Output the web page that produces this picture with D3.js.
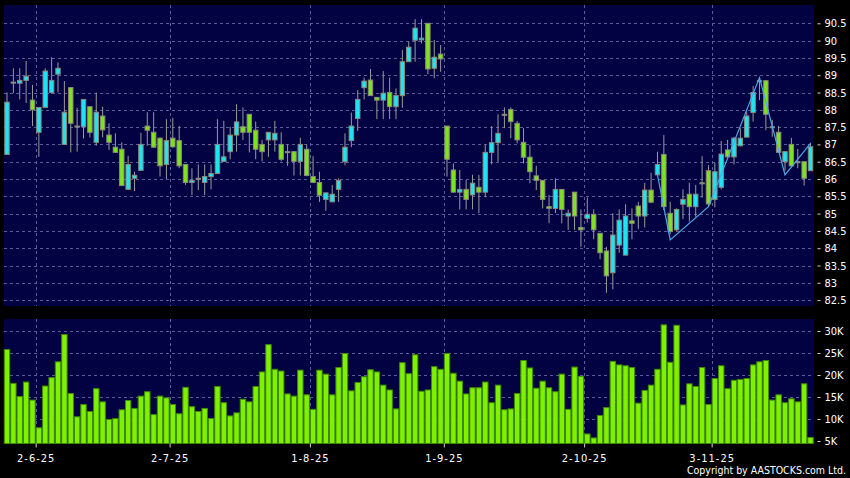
<!DOCTYPE html>
<html>
<head>
<meta charset="utf-8">
<script src="https://cdn.jsdelivr.net/npm/d3@7"></script>
<style>
  body { margin: 0; background: #000; }
  svg { display: block; }
  text { font-family: "DejaVu Sans Condensed", "DejaVu Sans", sans-serif; fill: #fff; }
</style>
</head>
<body>
<div id="chart"></div>
<script>
// daily candles, oldest first
var open = [86.71, 88.80, 88.77, 88.85, 88.28, 87.35, 88.07, 88.50, 89.03, 87.00,
  88.64, 87.53, 87.51, 88.09, 87.06, 87.82, 87.27, 86.92, 86.86, 85.70,
  86.02, 86.25, 87.53, 87.35, 87.18, 86.42, 87.18, 87.11, 86.42, 85.90,
  86.02, 85.90, 86.07, 86.16, 86.51, 86.79, 87.27, 87.51, 87.87, 87.41,
  87.00, 87.13, 87.13, 87.00, 86.79, 86.79, 86.51, 86.86, 86.07, 85.90,
  85.41, 85.34, 85.70, 86.50, 87.11, 87.75, 88.64, 88.86, 88.36, 88.28,
  88.50, 88.09, 88.41, 89.39, 90.01, 90.02, 90.50, 89.20, 89.61, 87.53,
  86.26, 85.62, 85.70, 85.54, 85.76, 85.62, 86.77, 87.05, 87.87, 88.01,
  87.61, 87.06, 86.63, 86.09, 85.96, 85.20, 85.15, 85.70, 84.93, 85.62,
  84.60, 84.86, 84.98, 84.43, 83.92, 83.29, 84.09, 83.80, 84.79, 85.22,
  84.93, 85.68, 86.12, 86.71, 85.01, 84.53, 85.27, 85.56, 85.20, 85.89,
  86.24, 85.41, 85.76, 86.84, 86.64, 86.96, 87.21, 87.92, 88.84, 88.84,
  87.51, 87.35, 86.50, 87.00, 86.50, 86.50, 86.24];
var high = [88.50, 89.20, 89.20, 89.41, 88.72, 88.07, 89.20, 89.52, 89.37, 88.83,
  88.66, 88.06, 88.30, 88.09, 88.50, 88.09, 87.61, 87.32, 87.06, 86.67,
  86.21, 87.34, 87.93, 87.93, 87.20, 87.73, 87.77, 87.53, 86.42, 86.31,
  86.42, 86.42, 86.42, 87.73, 87.68, 87.51, 88.16, 88.07, 87.87, 87.66,
  87.13, 87.35, 87.68, 87.35, 87.00, 86.79, 87.19, 87.00, 86.66, 86.21,
  85.60, 85.83, 86.02, 87.32, 87.92, 88.57, 88.93, 89.18, 88.36, 89.12,
  88.93, 88.62, 89.73, 89.97, 90.62, 90.62, 90.50, 90.02, 89.87, 87.53,
  86.45, 86.26, 85.97, 86.12, 86.12, 87.00, 87.53, 87.87, 88.07, 88.07,
  87.68, 87.47, 86.98, 86.38, 85.96, 85.54, 86.02, 85.70, 85.12, 85.62,
  85.12, 85.47, 85.12, 84.43, 84.04, 85.01, 85.12, 85.27, 85.15, 85.34,
  85.89, 86.18, 86.79, 87.27, 85.34, 85.15, 85.70, 85.89, 85.83, 86.66,
  86.40, 86.47, 87.10, 87.13, 87.22, 87.47, 87.95, 88.69, 88.91, 88.86,
  87.71, 87.53, 86.80, 87.19, 86.87, 86.50, 87.05];
var low = [86.71, 88.48, 88.30, 88.20, 87.53, 86.64, 88.07, 88.46, 88.50, 87.00,
  86.77, 86.79, 87.17, 87.20, 86.96, 87.20, 86.84, 86.75, 85.80, 85.70,
  85.65, 86.25, 86.96, 86.90, 86.07, 86.00, 86.90, 86.31, 85.83, 85.53,
  85.68, 85.53, 85.70, 86.16, 86.50, 86.57, 86.79, 87.13, 86.77, 86.57,
  86.51, 86.64, 86.79, 86.51, 86.38, 86.10, 86.10, 86.08, 85.88, 85.34,
  85.08, 85.34, 85.34, 86.40, 86.92, 87.39, 88.30, 88.40, 87.73, 87.73,
  87.73, 87.73, 88.06, 89.39, 89.39, 89.92, 89.03, 88.91, 89.10, 86.07,
  85.60, 85.12, 85.12, 85.12, 85.01, 85.47, 86.42, 86.50, 87.47, 87.18,
  87.03, 86.45, 85.88, 85.68, 85.15, 84.72, 85.01, 84.72, 84.53, 84.53,
  84.04, 84.74, 84.26, 83.68, 82.71, 82.81, 83.87, 83.80, 84.26, 84.56,
  84.60, 85.30, 86.10, 85.10, 84.40, 84.50, 84.84, 84.77, 84.91, 85.46,
  85.20, 85.18, 85.70, 86.62, 86.42, 86.95, 87.21, 87.66, 88.28, 87.41,
  87.22, 86.75, 86.24, 86.35, 86.31, 85.81, 86.24];
var close = [88.22, 88.77, 88.85, 88.97, 88.00, 88.07, 89.12, 88.85, 89.20, 87.93,
  87.61, 87.53, 88.30, 87.35, 87.93, 87.42, 87.06, 86.77, 85.81, 86.42,
  86.11, 87.00, 87.41, 86.92, 86.38, 87.11, 86.93, 86.38, 85.90, 85.96,
  86.02, 86.07, 86.16, 87.00, 86.64, 87.27, 87.65, 87.35, 87.35, 86.86,
  86.79, 87.35, 87.32, 86.57, 86.79, 86.51, 87.00, 86.10, 85.90, 85.53,
  85.60, 85.56, 85.96, 86.92, 87.53, 88.30, 88.83, 88.41, 88.28, 88.48,
  88.09, 88.41, 89.39, 89.81, 90.36, 90.07, 89.18, 89.52, 89.47, 86.57,
  85.62, 85.70, 85.41, 85.88, 85.62, 86.77, 87.05, 87.32, 87.87, 87.66,
  87.13, 86.63, 86.21, 85.96, 85.41, 85.15, 85.70, 85.12, 85.01, 84.93,
  84.53, 84.98, 84.53, 83.87, 83.20, 84.38, 84.81, 84.93, 84.72, 84.93,
  85.68, 85.33, 86.42, 85.20, 84.48, 85.12, 85.41, 85.20, 85.56, 85.89,
  85.28, 86.21, 86.72, 86.64, 87.18, 87.18, 87.82, 88.50, 88.84, 87.87,
  87.51, 86.77, 86.79, 86.38, 86.50, 86.02, 86.93];
// volume in thousands
var volume = [25.8, 18.1, 15.1, 18.4, 14.3, 8.0, 17.5, 19.4, 23.0, 29.2,
  15.8, 10.5, 13.3, 11.7, 16.9, 13.9, 9.9, 10.1, 12.1, 14.2,
  12.4, 15.2, 16.2, 11.0, 15.2, 14.8, 13.3, 11.2, 17.2, 12.8,
  11.7, 12.4, 10.1, 17.4, 13.7, 10.7, 11.4, 14.5, 13.9, 17.4,
  20.7, 26.9, 21.3, 20.9, 15.7, 15.2, 21.1, 15.5, 12.2, 21.1,
  20.2, 15.5, 21.7, 24.9, 16.4, 18.3, 19.6, 21.2, 20.7, 17.7,
  16.6, 12.3, 22.8, 20.3, 24.6, 16.3, 16.6, 21.9, 21.3, 24.9,
  20.4, 18.6, 15.7, 17.1, 17.1, 18.4, 13.7, 17.7, 12.1, 12.3,
  15.8, 23.3, 21.6, 17.0, 18.6, 17.1, 16.2, 20.2, 12.2, 21.8,
  19.7, 6.6, 5.7, 10.8, 12.6, 23.1, 22.3, 22.1, 21.7, 13.6,
  16.5, 17.7, 21.3, 31.4, 22.9, 31.3, 13.2, 18.0, 17.4, 21.7,
  13.3, 19.2, 22.1, 16.9, 18.8, 19.0, 19.2, 22.3, 23.0, 23.3,
  14.3, 15.5, 13.7, 14.6, 13.9, 18.0, 5.8];

var tickDays = [5, 26, 48, 69, 91, 111];
var tickLabels = ["2-6-25", "2-7-25", "1-8-25", "1-9-25", "2-10-25", "3-11-25"];
var priceTicks = [82.5, 83, 83.5, 84, 84.5, 85, 85.5, 86, 86.5, 87, 87.5, 88, 88.5, 89, 89.5, 90, 90.5];
var volTicks = [5, 10, 15, 20, 25, 30];

// zigzag overlay (day index, price)
var zigDays = [102, 104, 110, 118, 122, 126];
var zigValues = [86.12, 84.24, 85.20, 88.93, 86.12, 87.03];

var width = 850, height = 478;
var left = 4, right = 814;
var pTop = 5, pBottom = 306;
var vTop = 319, vBottom = 443.5;

var svg = d3.select("#chart").append("svg")
  .attr("width", width)
  .attr("height", height);

svg.append("rect").attr("width", width).attr("height", height).attr("fill", "#000");

var n = open.length;
var x = d3.scaleBand()
  .domain(d3.range(n))
  .range([3.8, 813.7])
  .paddingInner(0.15)
  .paddingOuter(0.075);
// slot edges, used for the date grid
var xs = d3.scaleLinear().domain([0, n]).range([3.8, 813.7]);

var y = d3.scaleLinear().domain([82.5, 90.5]).range([300.1, 23.3]);
var yv = d3.scaleLinear().domain([5, 30]).range([441, 331]);

// panels
svg.append("rect").attr("x", left).attr("y", pTop)
  .attr("width", right - left).attr("height", pBottom - pTop).attr("fill", "#020242");
svg.append("rect").attr("x", left).attr("y", vTop)
  .attr("width", right - left).attr("height", vBottom - vTop).attr("fill", "#020242");

var gridColor = "#5b5b98";

// horizontal grid
svg.append("g").selectAll("line")
  .data(priceTicks).enter().append("line")
  .attr("x1", left).attr("x2", right)
  .attr("y1", function (d) { return Math.round(y(d)) + 0.5; })
  .attr("y2", function (d) { return Math.round(y(d)) + 0.5; })
  .attr("stroke", gridColor).attr("stroke-dasharray", "3,3");

svg.append("g").selectAll("line")
  .data(volTicks).enter().append("line")
  .attr("x1", left).attr("x2", right)
  .attr("y1", function (d) { return Math.round(yv(d)) + 0.5; })
  .attr("y2", function (d) { return Math.round(yv(d)) + 0.5; })
  .attr("stroke", gridColor).attr("stroke-dasharray", "3,3");

// vertical grid on the date ticks, both panels
[[pTop, pBottom], [vTop, vBottom]].forEach(function (r) {
  svg.append("g").selectAll("line")
    .data(tickDays).enter().append("line")
    .attr("x1", function (d) { return Math.round(xs(d)) + 0.5; })
    .attr("x2", function (d) { return Math.round(xs(d)) + 0.5; })
    .attr("y1", r[0]).attr("y2", r[1])
    .attr("stroke", gridColor).attr("stroke-dasharray", "3,3");
});

var idx = d3.range(n);
var bw = x.bandwidth();

// wicks
svg.append("g").selectAll("line")
  .data(idx).enter().append("line")
  .attr("x1", function (i) { return x(i) + bw / 2; })
  .attr("x2", function (i) { return x(i) + bw / 2; })
  .attr("y1", function (i) { return y(high[i]); })
  .attr("y2", function (i) { return y(low[i]); })
  .attr("stroke", "#9a9a9a").attr("stroke-width", 1);

// bodies
svg.append("g").selectAll("rect")
  .data(idx).enter().append("rect")
  .attr("x", function (i) { return x(i) + 0.5; })
  .attr("width", bw - 1)
  .attr("y", function (i) { return y(Math.max(open[i], close[i])); })
  .attr("height", function (i) { return Math.max(1, Math.abs(y(open[i]) - y(close[i]))); })
  .attr("fill", function (i) { return close[i] >= open[i] ? "#1fe3f0" : "#7fe220"; })
  .attr("stroke", "#8a8a7a").attr("stroke-width", 1);

// zigzag
var zig = d3.line()
  .x(function (d, k) { return x(zigDays[k]) + bw / 2; })
  .y(function (d, k) { return y(zigValues[k]); });
svg.append("path")
  .datum(zigDays)
  .attr("d", zig)
  .attr("fill", "none")
  .attr("stroke", "#4fa6e6")
  .attr("stroke-width", 1.2);

// volume bars
svg.append("g").selectAll("rect")
  .data(idx).enter().append("rect")
  .attr("x", function (i) { return x(i); })
  .attr("width", bw)
  .attr("y", function (i) { return yv(volume[i]); })
  .attr("height", function (i) { return vBottom - yv(volume[i]); })
  .attr("fill", "#7ff000")
  .attr("stroke", "#3e8a00").attr("stroke-width", 1);

// right axes
var pAxis = svg.append("g")
  .attr("transform", "translate(817.5,0)")
  .call(d3.axisRight(y).tickValues(priceTicks).tickSize(3).tickPadding(4)
    .tickFormat(function (d) { return String(d); }));
var vAxis = svg.append("g")
  .attr("transform", "translate(817.5,0)")
  .call(d3.axisRight(yv).tickValues(volTicks).tickSize(3).tickPadding(4)
    .tickFormat(function (d) { return d + "K"; }));

// date axis
var dAxis = svg.append("g")
  .attr("transform", "translate(0," + vBottom + ")")
  .call(d3.axisBottom(xs).tickValues(tickDays).tickSize(4).tickPadding(6.5)
    .tickFormat(function (d, k) { return tickLabels[k]; }));

[pAxis, vAxis, dAxis].forEach(function (g) {
  g.select(".domain").remove();
  g.selectAll(".tick line").attr("stroke", "#d0d0d0");
  g.selectAll(".tick text").attr("fill", "#fff").style("font-size", "11px");
});
dAxis.selectAll(".tick text").attr("letter-spacing", "1px");

svg.append("text")
  .attr("x", 846).attr("y", 473.5)
  .attr("text-anchor", "end")
  .attr("textLength", 159)
  .attr("lengthAdjust", "spacingAndGlyphs")
  .style("font-size", "10.5px")
  .text("Copyright by AASTOCKS.com Ltd.");
</script>
</body>
</html>
